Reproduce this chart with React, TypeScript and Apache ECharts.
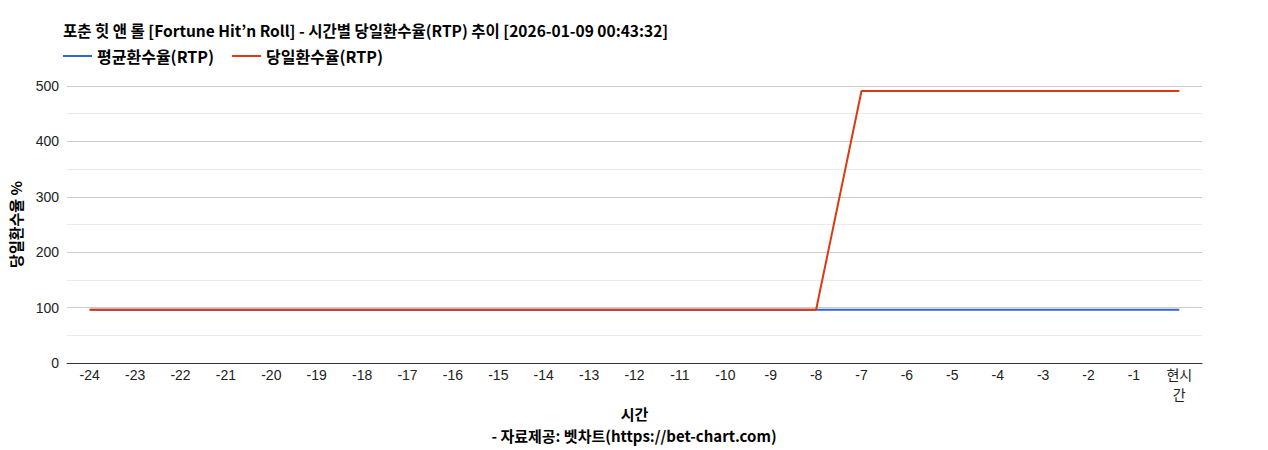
import * as echarts from "echarts";
import { useEffect, useRef } from "react";

// 시간 축 (24시간 전 ~ 현재)
const hours = [
  "-24", "-23", "-22", "-21", "-20", "-19", "-18", "-17", "-16", "-15",
  "-14", "-13", "-12", "-11", "-10", "-9", "-8", "-7", "-6", "-5",
  "-4", "-3", "-2", "-1", "현시간",
];

// 평균환수율(RTP)
const avgRtp = [
  96, 96, 96, 96, 96, 96, 96, 96, 96, 96, 96, 96, 96, 96, 96, 96, 96,
  96, 96, 96, 96, 96, 96, 96, 96,
];

// 당일환수율(RTP)
const dailyRtp = [
  96, 96, 96, 96, 96, 96, 96, 96, 96, 96, 96, 96, 96, 96, 96, 96, 96,
  491, 491, 491, 491, 491, 491, 491, 491,
];

const titleText =
  "포춘 힛 앤 롤 [Fortune Hit’n Roll] - 시간별 당일환수율(RTP) 추이 [2026-01-09 00:43:32]";
const creditText = "- 자료제공: 벳차트(https://bet-chart.com)";

const font = "Arial, 'Liberation Sans', 'Noto Sans CJK KR', sans-serif";
const boldFont = "'Noto Sans CJK KR', sans-serif";

export default function App() {
  const chartRef = useRef<HTMLDivElement>(null);

  useEffect(() => {
    document.body.style.margin = "0";
    if (!chartRef.current) return;
    const chart = echarts.init(chartRef.current, undefined, { renderer: "svg" });
    const bold = { fontSize: 14, fontWeight: "bold", color: "#000", fontFamily: boldFont };
    chart.setOption({
      animation: false,
      textStyle: { fontFamily: font },
      title: {
        text: titleText,
        left: 58,
        top: 17,
        textStyle: { ...bold, fontSize: 15.5 },
      },
      legend: {
        left: 58,
        top: 43,
        itemWidth: 29,
        itemHeight: 2,
        itemGap: 18,
        icon: "rect",
        textStyle: { ...bold, fontSize: 16 },
        data: ["평균환수율(RTP)", "당일환수율(RTP)"],
      },
      grid: { left: 63, right: 66, top: 86, bottom: 87 },
      xAxis: {
        type: "category",
        data: hours,
        boundaryGap: true,
        name: "시간",
        nameLocation: "middle",
        nameGap: 43,
        nameMoveOverlap: false,
        nameTextStyle: { ...bold, fontSize: 15 },
        axisLine: { lineStyle: { color: "#333", width: 1 } },
        axisTick: { show: false },
        axisLabel: {
          fontSize: 14,
          color: "#222",
          margin: 2,
          interval: 0,
          lineHeight: 20,
          formatter: (v: string) => (v === "현시간" ? "현시\n간" : v),
        },
      },
      yAxis: {
        type: "value",
        min: 0,
        max: 500,
        interval: 100,
        name: "당일환수율 %",
        nameLocation: "middle",
        nameRotate: 90,
        nameGap: 44,
        nameMoveOverlap: false,
        nameTextStyle: { ...bold, fontSize: 15 },
        axisLine: { show: false },
        axisTick: { show: false },
        axisLabel: { fontSize: 14, color: "#222", margin: 8 },
        splitLine: { lineStyle: { color: "#cccccc" } },
        minorTick: { show: false, splitNumber: 2 },
        minorSplitLine: { show: true, lineStyle: { color: "#ebebeb" } },
      },
      series: [
        {
          name: "평균환수율(RTP)",
          type: "line",
          data: avgRtp,
          showSymbol: false,
          color: "#3366cc",
          lineStyle: { width: 2 },
        },
        {
          name: "당일환수율(RTP)",
          type: "line",
          data: dailyRtp,
          showSymbol: false,
          color: "#dc3912",
          lineStyle: { width: 2 },
        },
      ],
      graphic: [
        {
          type: "text",
          left: "center",
          top: 428,
          style: {
            text: creditText,
            fontSize: 15,
            fontWeight: "bold",
            fill: "#000",
            fontFamily: boldFont,
          },
        },
      ],
    });
    return () => chart.dispose();
  }, []);

  return <div ref={chartRef} style={{ width: 1268, height: 450 }} />;
}
